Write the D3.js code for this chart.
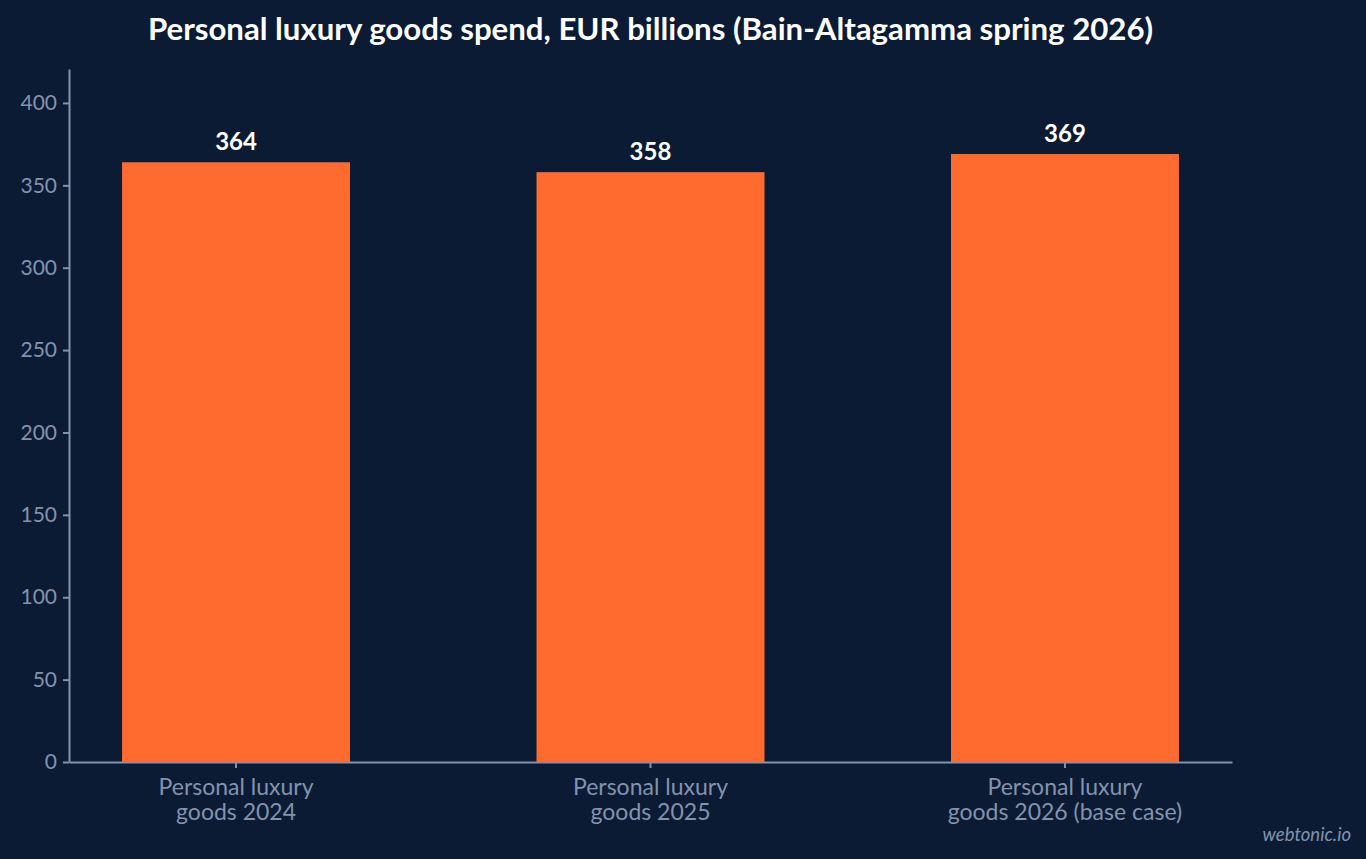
<!DOCTYPE html>
<html>
<head>
<meta charset="utf-8">
<script src="https://cdn.jsdelivr.net/npm/d3@7"></script>
<style>
  html, body { margin: 0; padding: 0; background: #0b1b34; }
  svg { display: block; }
</style>
</head>
<body>
<div id="chart"></div>
<script>
// chart data
var categories = [
    ["Personal luxury", "goods 2024"],
    ["Personal luxury", "goods 2025"],
    ["Personal luxury", "goods 2026 (base case)"]
];
var values = [364, 358, 369];
var yTicks = [0, 50, 100, 150, 200, 250, 300, 350, 400];

var width = 1366, height = 859;
var margin = {top: 69, right: 134, bottom: 97, left: 69};
var font = "Lato, 'Open Sans', sans-serif";
var axisColour = "#8393ad";

var svg = d3.select("#chart").append("svg")
    .attr("width", width)
    .attr("height", height)
    .style("background", "#0b1b34");

var x = d3.scaleBand()
    .domain(d3.range(values.length))
    .range([margin.left, width - margin.right])
    .paddingInner(0.45)
    .paddingOuter(0.128);

var y = d3.scaleLinear()
    .domain([0, 420.6])
    .range([height - margin.bottom, margin.top]);

//title
svg.append("text")
    .attr("x", (margin.left + width - margin.right) / 2)
    .attr("y", 40)
    .attr("text-anchor", "middle")
    .style("font-family", font)
    .style("font-weight", "bold")
    .style("font-size", "31.2px")
    .style("fill", "#ffffff")
    .text("Personal luxury goods spend, EUR billions (Bain-Altagamma spring 2026)");

// bars
svg.append("g").selectAll("rect")
    .data(values)
    .join("rect")
    .attr("x", function(d, i) { return x(i); })
    .attr("y", function(d) { return y(d); })
    .attr("width", x.bandwidth())
    .attr("height", function(d) { return y(0) - y(d); })
    .style("fill", "#ff6b2e");

// value labels
svg.append("g").selectAll("text")
    .data(values)
    .join("text")
    .attr("x", function(d, i) { return x(i) + x.bandwidth() / 2; })
    .attr("y", function(d) { return y(d) - 12; })
    .attr("text-anchor", "middle")
    .style("font-family", font)
    .style("font-weight", "bold")
    .style("font-size", "24px")
    .style("fill", "#ffffff")
    .text(function(d) { return d; });

// y axis
var yAxis = svg.append("g")
    .attr("transform", "translate(" + margin.left + ",0)")
    .call(d3.axisLeft(y).tickValues(yTicks).tickSize(6).tickPadding(6).tickSizeOuter(0));
yAxis.select(".domain").attr("stroke", axisColour).attr("stroke-width", 2);
yAxis.selectAll(".tick line").attr("stroke", axisColour).attr("stroke-width", 2);
yAxis.selectAll(".tick text")
    .style("font-family", font)
    .style("font-size", "21px")
    .style("fill", axisColour);

// x axis
var xAxis = svg.append("g")
    .attr("transform", "translate(0," + y(0) + ")")
    .call(d3.axisBottom(x).tickSize(6).tickSizeOuter(0).tickFormat(""));
xAxis.select(".domain").attr("stroke", axisColour).attr("stroke-width", 2);
xAxis.selectAll(".tick line").attr("stroke", axisColour).attr("stroke-width", 2);

xAxis.selectAll(".tick").each(function(i) {
    var t = d3.select(this).append("text")
        .attr("text-anchor", "middle")
        .style("font-family", font)
        .style("font-size", "23px")
        .style("fill", axisColour);
    categories[i].forEach(function(line, k) {
        t.append("tspan")
            .attr("x", 0)
            .attr("y", 33 + k * 25)
            .text(line);
    });
});

// watermark
svg.append("text")
    .attr("x", 1351)
    .attr("y", 841)
    .attr("text-anchor", "end")
    .style("font-family", font)
    .style("font-style", "italic")
    .style("font-size", "18.5px")
    .style("fill", axisColour)
    .text("webtonic.io");
</script>
</body>
</html>
